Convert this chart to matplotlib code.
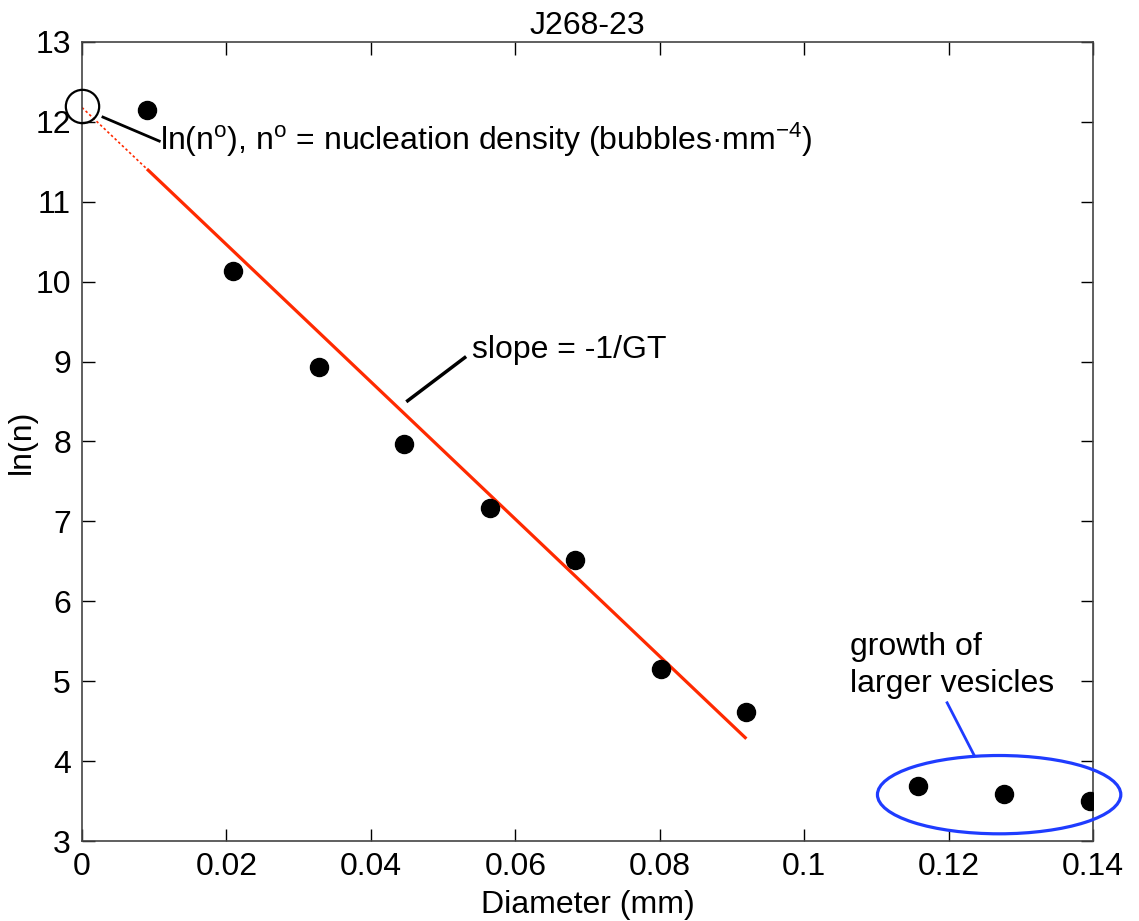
import matplotlib
matplotlib.use('Agg')
import matplotlib.pyplot as plt
from matplotlib.patches import Ellipse
import numpy as np

plt.rcParams['font.family'] = ['Liberation Sans', 'DejaVu Sans']
plt.rcParams['mathtext.fontset'] = 'custom'
plt.rcParams['mathtext.rm'] = 'Liberation Sans'
plt.rcParams['mathtext.it'] = 'Liberation Sans'

# bubble size distribution, sample J268-23
diameter = [0.0090, 0.0209, 0.0328, 0.0446, 0.0565, 0.0683, 0.0802, 0.0919, 0.1158, 0.1277, 0.1396]
ln_n = [12.15, 10.13, 8.93, 7.97, 7.17, 6.52, 5.15, 4.61, 3.69, 3.59, 3.50]

# fitted line (solid part) and extrapolation back to d = 0
fit_x = [0.0090, 0.0920]
fit_y = [11.41, 4.28]
extrap_x = [0.0, 0.0090]
extrap_y = [12.18, 11.41]

xticks = [0, 0.02, 0.04, 0.06, 0.08, 0.1, 0.12, 0.14]
xticklabels = ['0', '0.02', '0.04', '0.06', '0.08', '0.1', '0.12', '0.14']
yticks = list(range(3, 14))

fig = plt.figure(figsize=(11.39, 9.21), dpi=100)
ax = fig.add_axes([82 / 1139, 80 / 921, 1011 / 1139, 799 / 921])

ax.plot(fit_x, fit_y, color='#ff2a00', lw=2.3, solid_capstyle='butt', zorder=2)
ax.plot(extrap_x, extrap_y, color='#ff2a00', lw=1.2, ls=(0, (1.5, 1.5)), zorder=2)
ax.plot(diameter, ln_n, 'o', color='black', ms=13, zorder=3)

# open circle marking the intercept
ax.plot([0], [12.2], 'o', mfc='none', mec='black', ms=24, mew=1.6, clip_on=False, zorder=4)

ax.set_xlim(0, 0.14)
ax.set_ylim(3, 13)
ax.set_xticks(xticks)
ax.set_xticklabels(xticklabels)
ax.set_yticks(yticks)
ax.tick_params(direction='in', length=9, width=1, labelsize=23, top=True, right=True,
               pad=8, colors='black')
for s in ax.spines.values():
    s.set_color('#444444')
    s.set_linewidth(1.2)

ax.set_title('J268-23', fontsize=23, pad=6)
ax.set_xlabel('Diameter (mm)', fontsize=23, labelpad=6)
ylab = ax.set_ylabel('ln(n)', fontsize=23)
ylab.set_va('center')
ax.yaxis.set_label_coords(-0.059, 0.5)

# annotations
ax.plot([0.0029, 0.0107], [12.06, 11.76], color='black', lw=2, clip_on=False)
ax.text(0.0108, 11.78,
        r'ln(n$^\mathrm{o}$), n$^\mathrm{o}$ = nucleation density (bubbles·mm$^\mathrm{-4}$)',
        fontsize=23, va='center', ha='left')
ax.plot([0.0451, 0.0530], [8.51, 9.05], color='black', lw=2.5)
ax.text(0.0540, 9.15, 'slope = -1/GT', fontsize=23, va='center', ha='left')

ax.text(0.1063, 5.2, 'growth of\nlarger vesicles', fontsize=23, va='center', ha='left',
        linespacing=1.3)
ax.plot([0.1198, 0.1235], [4.73, 4.08], color='#1f3cff', lw=2, clip_on=False)
ax.add_patch(Ellipse((0.1270, 3.58), 0.0337, 0.98, fill=False, ec='#1f3cff', lw=2.3,
                     clip_on=False, zorder=5))

fig.savefig('out.png', dpi=100)
